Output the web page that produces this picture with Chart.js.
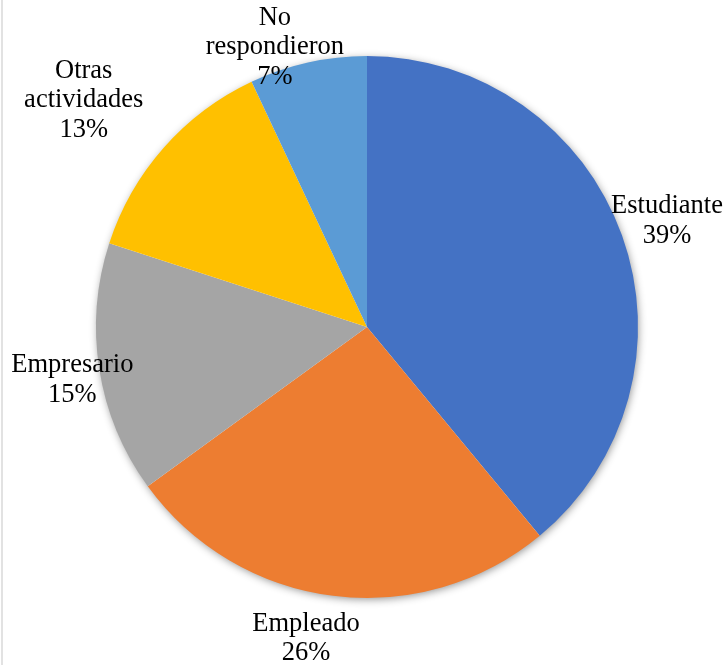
<!DOCTYPE html>
<html>
<head>
<meta charset="utf-8">
<script src="https://cdn.jsdelivr.net/npm/chart.js@4.4.1/dist/chart.umd.min.js"></script>
<style>
  html, body { margin: 0; padding: 0; background: #ffffff; }
  #wrap { position: relative; width: 723px; height: 665px; }
  canvas { display: block; }
</style>
</head>
<body>
<div id="wrap"><canvas id="c" width="723" height="665"></canvas></div>
<script>
// ---- data ----
const categories = ["Estudiante", "Empleado", "Empresario", "Otras actividades", "No respondieron"];
const labelLines = [["Estudiante"], ["Empleado"], ["Empresario"], ["Otras", "actividades"], ["No", "respondieron"]];
const percentages = [39, 26, 15, 13, 7];
const sliceColors = ["#4472C4", "#ED7D31", "#A5A5A5", "#FFC000", "#5B9BD5"];

// label offsets (first baseline relative to slice's outer mid point)
const labelOffsets = [[45, -22], [-27, 35], [-27, 3], [-80, -70], [-33, -38]];

const shadowPlugin = {
  id: 'pieShadow',
  beforeDatasetsDraw(chart) {
    const meta = chart.getDatasetMeta(0);
    if (!meta.data.length) return;
    const arc = meta.data[0];
    const ctx = chart.ctx;
    ctx.save();
    ctx.shadowColor = 'rgba(0,0,0,0.45)';
    ctx.shadowBlur = 8;
    ctx.shadowOffsetX = 1;
    ctx.shadowOffsetY = 2;
    ctx.fillStyle = '#ffffff';
    ctx.beginPath();
    ctx.arc(arc.x, arc.y, arc.outerRadius - 1, 0, Math.PI * 2);
    ctx.fill();
    ctx.restore();
  }
};

const labelPlugin = {
  id: 'sliceLabels',
  afterDatasetsDraw(chart) {
    const meta = chart.getDatasetMeta(0);
    const ctx = chart.ctx;
    ctx.save();
    ctx.font = '26.5px "Liberation Serif", "Times New Roman", serif';
    ctx.fillStyle = '#000000';
    ctx.textAlign = 'center';
    ctx.textBaseline = 'alphabetic';
    const lh = 29.5;
    meta.data.forEach((arc, i) => {
      const mid = (arc.startAngle + arc.endAngle) / 2;
      const ax = arc.x + Math.cos(mid) * arc.outerRadius;
      const ay = arc.y + Math.sin(mid) * arc.outerRadius;
      const x = ax + labelOffsets[i][0];
      let y = ay + labelOffsets[i][1];
      const lines = labelLines[i].concat([percentages[i] + '%']);
      lines.forEach((t, k) => ctx.fillText(t, x, y + k * lh));
    });
    ctx.restore();
  }
};

const framePlugin = {
  id: 'frame',
  beforeDraw(chart) {
    const ctx = chart.ctx;
    ctx.save();
    ctx.strokeStyle = '#d9d9d9';
    ctx.lineWidth = 1.5;
    ctx.beginPath();
    ctx.moveTo(2, 0);
    ctx.lineTo(2, chart.height);
    ctx.stroke();
    ctx.restore();
  }
};

new Chart(document.getElementById('c'), {
  type: 'pie',
  data: {
    labels: categories,
    datasets: [{
      data: percentages,
      backgroundColor: sliceColors,
      borderWidth: 0,
      hoverOffset: 0
    }]
  },
  options: {
    responsive: false,
    animation: false,
    layout: { padding: { left: 96, right: 85, top: 56, bottom: 67 } },
    plugins: {
      legend: { display: false },
      tooltip: { enabled: false }
    }
  },
  plugins: [framePlugin, shadowPlugin, labelPlugin]
});
</script>
</body>
</html>
